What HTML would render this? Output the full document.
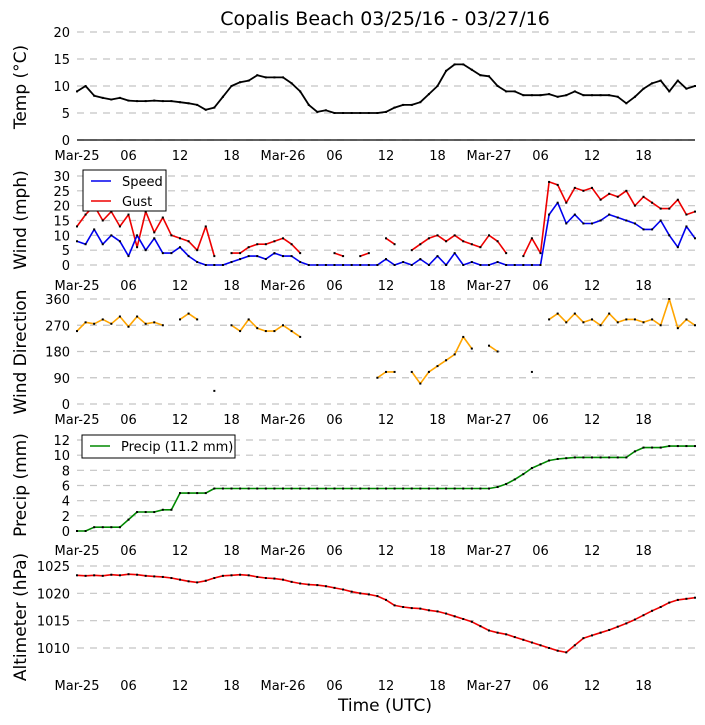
<!DOCTYPE html>
<html><head><meta charset="utf-8"><style>
body{margin:0;background:#fff}
svg{display:block;font-family:"DejaVu Sans","Liberation Sans",sans-serif}
</style></head><body>
<svg id="c" width="705" height="725" xmlns="http://www.w3.org/2000/svg">
<text x="385" y="25" font-size="19" text-anchor="middle">Copalis Beach 03/25/16 - 03/27/16</text>
<text x="385" y="711" font-size="17" text-anchor="middle">Time (UTC)</text>
</svg>
<script>
const xTickLabels=["Mar-25","06","12","18","Mar-26","06","12","18","Mar-27","06","12","18"];
const temp=[9,10,8.2,7.8,7.5,7.8,7.3,7.2,7.2,7.3,7.2,7.2,7,6.8,6.5,5.6,6,8,10,10.7,11,12,11.6,11.6,11.6,10.5,9,6.5,5.2,5.5,5,5,5,5,5,5,5.2,6,6.5,6.5,7,8.5,10,12.8,14,14,13,12,11.8,10,9,9,8.3,8.3,8.3,8.5,8,8.3,9,8.3,8.3,8.3,8.3,8,6.8,8,9.5,10.5,11,9,11,9.5,10];
const speed=[8,7,12,7,10,8,3,10,5,9,4,4,6,3,1,0,0,0,1,2,3,3,2,4,3,3,1,0,0,0,0,0,0,0,0,0,2,0,1,0,2,0,3,0,4,0,1,0,0,1,0,0,0,0,0,17,21,14,17,14,14,15,17,16,15,14,12,12,15,10,6,13,9];
const gust=[13,17,20,15,18,13,17,6,18,11,16,10,9,8,5,13,3,null,4,4,6,7,7,8,9,7,4,null,null,null,4,3,null,3,4,null,9,7,null,5,7,9,10,8,10,8,7,6,10,8,4,null,3,9,4,28,27,21,26,25,26,22,24,23,25,20,23,21,19,19,22,17,18];
const direction=[250,280,275,290,275,300,265,300,275,280,270,null,290,310,290,null,45,null,270,250,290,260,250,250,270,250,230,null,null,null,null,null,null,null,null,90,110,110,null,110,70,110,130,150,170,230,190,null,200,180,null,null,null,110,null,290,310,280,310,280,290,270,310,280,290,290,280,290,270,360,260,290,270];
const precip=[0,0,0.5,0.5,0.5,0.5,1.5,2.5,2.5,2.5,2.8,2.8,5,5,5,5,5.6,5.6,5.6,5.6,5.6,5.6,5.6,5.6,5.6,5.6,5.6,5.6,5.6,5.6,5.6,5.6,5.6,5.6,5.6,5.6,5.6,5.6,5.6,5.6,5.6,5.6,5.6,5.6,5.6,5.6,5.6,5.6,5.6,5.8,6.2,6.8,7.5,8.3,8.8,9.3,9.5,9.6,9.7,9.7,9.7,9.7,9.7,9.7,9.7,10.5,11,11,11,11.2,11.2,11.2,11.2];
const pressure=[1023.3,1023.2,1023.3,1023.2,1023.4,1023.3,1023.5,1023.4,1023.2,1023.1,1023,1022.8,1022.5,1022.2,1022,1022.3,1022.8,1023.2,1023.3,1023.4,1023.3,1023,1022.8,1022.7,1022.5,1022.1,1021.8,1021.6,1021.5,1021.3,1021,1020.7,1020.3,1020,1019.8,1019.5,1018.8,1017.8,1017.5,1017.3,1017.2,1016.9,1016.7,1016.3,1015.8,1015.3,1014.8,1014,1013.2,1012.8,1012.5,1012,1011.5,1011,1010.5,1010,1009.5,1009.2,1010.5,1011.8,1012.3,1012.8,1013.3,1013.9,1014.5,1015.2,1016,1016.8,1017.5,1018.3,1018.8,1019,1019.2];
const tempTicks=[0,5,10,15,20], windTicks=[0,5,10,15,20,25,30], dirTicks=[0,90,180,270,360], precipTicks=[0,2,4,6,8,10,12], presTicks=[1010,1015,1020,1025];

const svg=document.getElementById('c');
const NS='http://www.w3.org/2000/svg';
const X0=77,X1=695,HRS=72;
function xs(h){return X0+h*(X1-X0)/HRS;}
function mk(tag,attrs,parent){const e=document.createElementNS(NS,tag);for(const k in attrs)e.setAttribute(k,attrs[k]);(parent||svg).appendChild(e);return e;}
function scale(v0,v1,p0,p1){return v=>p0+(v-v0)*(p1-p0)/(v1-v0);}

function panel(name,ticks,ys,labelY,title,titleY,solidBase){
  const g=mk('g',{});
  
  
  ticks.forEach(t=>{
    const y=ys(t);
    const l=mk('line',{x1:X0,x2:X1,y1:y,y2:y,stroke:'#c4c4c4','stroke-width':1.2,'stroke-dasharray':'7,6'},g);
    
    
    const tx=mk('text',{x:70,y:y+5,'font-size':13,'text-anchor':'end'},g);
    tx.textContent=t;
    
    
  });
  if(solidBase){const b=mk('line',{x1:X0,x2:X1,y1:ys(0),y2:ys(0),stroke:'#000','stroke-width':1.2},g);
    
    }
  xTickLabels.forEach((s,i)=>{
    const tx=mk('text',{x:xs(i*6),y:labelY,'font-size':13,'text-anchor':'middle'},g);
    tx.textContent=s;
    
    
  });
  const tt=mk('text',{x:0,y:0,'font-size':17,'text-anchor':'middle',transform:`translate(26,${titleY}) rotate(-90)`},g);
  tt.textContent=title;
  
  
  return g;
}
function series(name,data,ys,color,w){
  const g=mk('g',{});
  
  
  let seg=[];
  const flush=()=>{if(seg.length>1){const p=mk('polyline',{points:seg.join(' '),fill:'none',stroke:color,'stroke-width':w,'stroke-linejoin':'round'},g);
      
      }seg=[];};
  data.forEach((v,i)=>{
    if(v===null){flush();return;}
    seg.push(xs(i).toFixed(1)+','+ys(v).toFixed(1));
  });
  flush();
  data.forEach((v,i)=>{
    if(v===null)return;
    const d=mk('rect',{x:xs(i)-1,y:ys(v)-1,width:2,height:2,fill:'#000'},g);
    
    
  });
}
function legend(name,x,y,w,h,items){
  const g=mk('g',{});
  
  
  mk('rect',{x:x,y:y,width:w,height:h,fill:'#fff',stroke:'#000','stroke-width':1},g);
  items.forEach((it,i)=>{
    const yy=y+11+i*20;
    mk('line',{x1:x+8,x2:x+28,y1:yy,y2:yy,stroke:it[1],'stroke-width':1.6},g);
    const t=mk('text',{x:x+39,y:yy+5,'font-size':13},g);
    t.textContent=it[0];
    
    
  });
}

const yT=scale(0,20,140,32);
panel('temp',tempTicks,yT,160,'Temp (\u00B0C)',87,true);
series('temp',temp,yT,'#000',1.8);

const yW=scale(0,30,265,176);
panel('wind',windTicks,yW,290,'Wind (mph)',220,false);
series('gust',gust,yW,'#e00',1.6);
series('speed',speed,yW,'#00e',1.6);
legend('wind-legend',83,170,83,41,[['Speed','#00e'],['Gust','#e00']]);

const yD=scale(0,360,404,299);
panel('direction',dirTicks,yD,424,'Wind Direction',352,false);
series('direction',direction,yD,'orange',1.6);

const yP=scale(0,12,531,440);
panel('precip',precipTicks,yP,555,'Precip (mm)',485,false);
series('precip',precip,yP,'#080',1.6);
legend('precip-legend',82,435,153,23,[['Precip (11.2 mm)','#080']]);

const yA=scale(1010,1025,648,566);
panel('altimeter',presTicks,yA,690,'Altimeter (hPa)',617,false);
series('pressure',pressure,yA,'#e00',1.6);
</script>
</body></html>
